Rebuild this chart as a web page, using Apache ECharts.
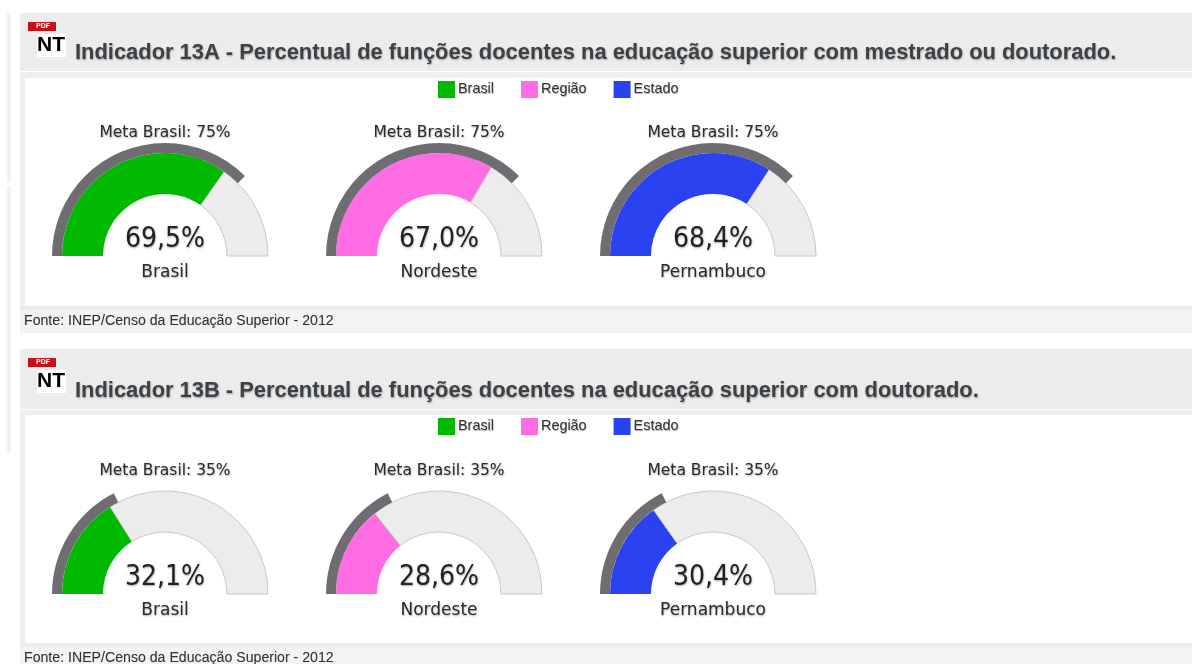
<!DOCTYPE html>
<html><head><meta charset="utf-8">
<style>html,body{margin:0;padding:0;background:#fff}#c{width:1192px;height:664px}</style>
<script src="https://cdn.jsdelivr.net/npm/echarts@6/dist/echarts.min.js"></script>
</head><body><div id="c"></div>
<script>
const legendNames = ['Brasil','Região','Estado'];
const legendColors = ['#00b900','#ff6ce4','#2a42f0'];
const gaugeLabels = ['Brasil','Nordeste','Pernambuco'];
const valuesA = [69.5,67.0,68.4];
const valuesB = [32.1,28.6,30.4];
const metaA = 75;
const metaB = 35;
const titleA = 'Indicador 13A - Percentual de funções docentes na educação superior com mestrado ou doutorado.';
const titleB = 'Indicador 13B - Percentual de funções docentes na educação superior com doutorado.';
const source = 'Fonte: INEP/Censo da Educação Superior - 2012';

const centersX = [165,439,713];
const panels = [
 {top:13,titleTop:42,headBottom:71,bodyTop:78,bodyBottom:306,footTop:310,footBottom:333,base:256,title:titleA,vals:valuesA,meta:metaA},
 {top:349,titleTop:380,headBottom:409,bodyTop:415,bodyBottom:643,footTop:647,footBottom:664,base:594,title:titleB,vals:valuesB,meta:metaB}
];
const shadow = {textShadowColor:'rgba(0,0,0,0.35)',textShadowBlur:2,textShadowOffsetX:0.5,textShadowOffsetY:1};
const rect=(x,y,w,h,fill,z)=>({type:'rect',silent:true,z:z||0,shape:{x,y,width:w,height:h},style:{fill}});
const series=[],titles=[],graphic=[],legends=[];

graphic.push(rect(7,13,4,170,'#f1f1f1'),rect(7,187,4,265,'#f1f1f1'));

panels.forEach((p,pi)=>{
  graphic.push(
    rect(20,p.top,1172,p.headBottom-p.top,'#ececec'),
    rect(20,p.headBottom+1,1172,p.bodyTop-p.headBottom-1,'#efefef'),
    rect(20,p.bodyTop,5,p.bodyBottom-p.bodyTop,'#efefef'),
    rect(20,p.bodyBottom,1172,p.footTop-p.bodyBottom,'#ececec'),
    rect(20,p.footTop,1172,p.footBottom-p.footTop,'#f3f3f3'),
    // NT / PDF icon
    rect(37,p.top+21,29,23,'#ffffff',1),
    rect(28,p.top+9,28,9,'#c8101a',2),
    {type:'text',silent:true,z:3,x:36,y:p.top+10,style:{text:'PDF',fill:'#fff',font:'bold 7px "Liberation Sans"'}},
    {type:'text',silent:true,z:3,x:37,y:p.top+22,style:{text:'NT',fill:'#000',font:'bold 21px "Liberation Sans"'}}
  );
  titles.push({text:p.title,left:75,top:p.titleTop,padding:0,
    textStyle:{color:'#3d4247',fontFamily:'Liberation Sans',fontWeight:'bold',fontSize:21.9,...shadow}});
  titles.push({text:source,left:24,top:p.footTop+4,padding:0,
    textStyle:{color:'#333',fontFamily:'Liberation Sans',fontWeight:'normal',fontSize:14.15,textShadowColor:'rgba(0,0,0,0.2)',textShadowBlur:1}});
  legends.push({show:true,left:438,top:p.bodyTop+3,orient:'horizontal',padding:0,itemWidth:17,itemHeight:17,itemGap:27,
    data:legendNames.map(n=>({name:n,icon:'rect'})),selectedMode:false,
    textStyle:{color:'#333',fontFamily:'Liberation Sans',fontSize:14.4,padding:[0,0,0,-2],...shadow,textShadowBlur:1}});
  centersX.forEach((cx,i)=>{
    const v=p.vals[i], col=legendColors[i];
    const common={type:'pie',center:[cx,p.base],startAngle:180,endAngle:0,clockwise:true,silent:true,animation:false,label:{show:false},labelLine:{show:false},minAngle:0,avoidLabelOverlap:false};
    series.push({...common,name:p.title+gaugeLabels[i]+' valor',z:3,radius:[62,103],
      data:[
        {name:legendNames[i],value:v,itemStyle:{color:col}},
        {name:'Restante',value:100-v,itemStyle:{color:'#ececec',borderColor:'#c8c8c8',borderWidth:1}}
      ]});
    series.push({...common,name:p.title+gaugeLabels[i]+' meta',z:4,radius:[103,113],
      data:[
        {name:'Meta',value:p.meta,itemStyle:{color:'#706d72'}},
        {name:'',value:100-p.meta,itemStyle:{color:'rgba(0,0,0,0)'}}
      ]});
    titles.push({text:'Meta Brasil: '+p.meta+'%',left:cx,top:p.base-131,textAlign:'center',padding:0,
      textStyle:{color:'#2a2a2a',fontFamily:'DejaVu Sans',fontWeight:'normal',fontSize:15.5,...shadow}});
    titles.push({text:v.toFixed(1).replace('.',',')+'%',left:cx,top:p.base-30,textAlign:'center',padding:0,
      textStyle:{color:'#222',fontFamily:'"DejaVu Sans Condensed","Open Sans"',fontWeight:'normal',fontSize:28,...shadow}});
    titles.push({text:gaugeLabels[i],left:cx,top:p.base+8,textAlign:'center',padding:0,
      textStyle:{color:'#2a2a2a',fontFamily:'DejaVu Sans',fontWeight:'normal',fontSize:17,...shadow}});
  });
});
const chart=echarts.init(document.getElementById('c'),null,{renderer:'canvas'});
chart.setOption({animation:false,backgroundColor:'#fff',color:legendColors,title:titles,legend:legends,graphic:{elements:graphic},series});
</script></body></html>
